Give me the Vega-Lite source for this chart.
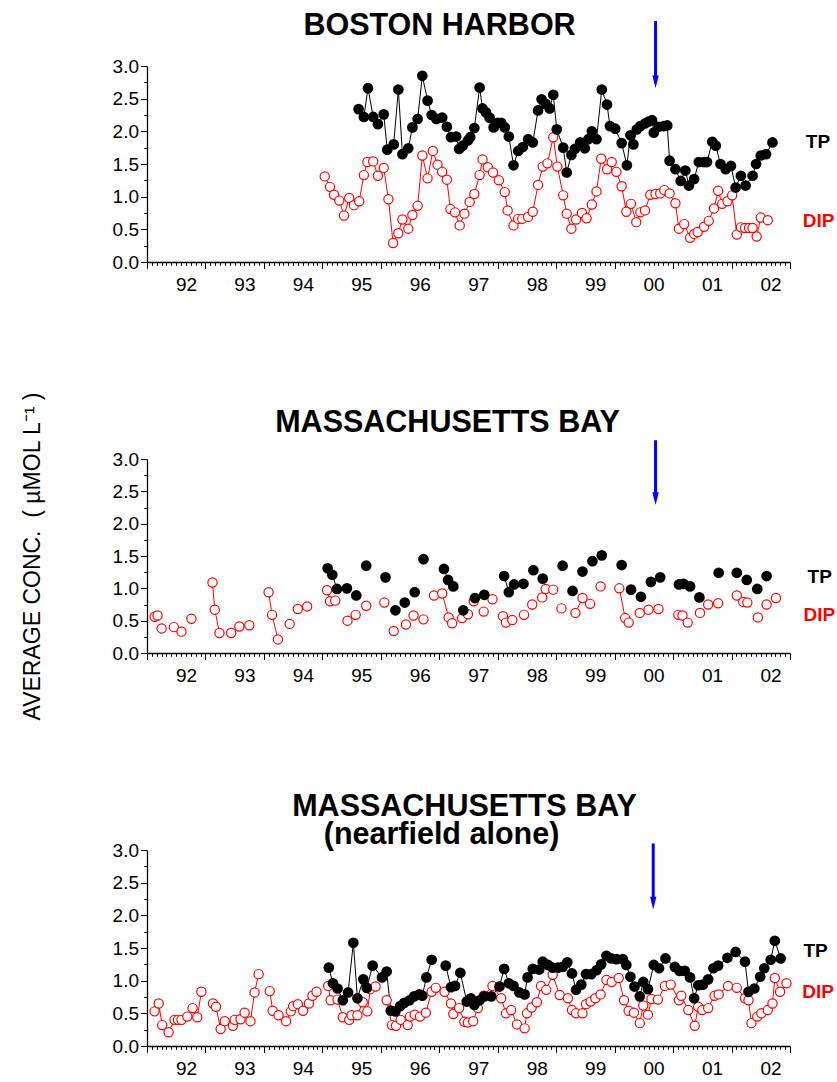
{
  "$schema": "https://vega.github.io/schema/vega-lite/v6.json",
  "padding": {"left": 21, "top": 10, "right": 5, "bottom": 5},
  "bounds": "flush",
  "spacing": 197,
  "config": {
    "view": {"stroke": null},
    "title": {"font": "Liberation Sans", "fontSize": 30.5, "fontWeight": "bold", "color": "#000000", "anchor": "middle", "baseline": "alphabetic", "frame": "group"}
  },
  "datasets": {
    "harbor": [
      {"t":1995.62,"v":2.34,"s":"TP","g":1},{"t":1995.71,"v":2.22,"s":"TP","g":1},{"t":1995.78,"v":2.66,"s":"TP","g":1},{"t":1995.87,"v":2.22,"s":"TP","g":1},
      {"t":1995.95,"v":2.11,"s":"TP","g":1},{"t":1996.05,"v":2.26,"s":"TP","g":1},{"t":1996.11,"v":1.72,"s":"TP","g":1},{"t":1996.22,"v":1.80,"s":"TP","g":1},
      {"t":1996.30,"v":2.64,"s":"TP","g":1},{"t":1996.37,"v":1.65,"s":"TP","g":1},{"t":1996.47,"v":1.74,"s":"TP","g":1},{"t":1996.54,"v":2.06,"s":"TP","g":1},
      {"t":1996.63,"v":2.19,"s":"TP","g":1},{"t":1996.71,"v":2.85,"s":"TP","g":1},{"t":1996.80,"v":2.47,"s":"TP","g":1},{"t":1996.87,"v":2.25,"s":"TP","g":1},
      {"t":1996.95,"v":2.19,"s":"TP","g":1},{"t":1997.05,"v":2.21,"s":"TP","g":1},{"t":1997.13,"v":2.07,"s":"TP","g":1},{"t":1997.20,"v":1.91,"s":"TP","g":1},
      {"t":1997.29,"v":1.92,"s":"TP","g":1},{"t":1997.34,"v":1.73,"s":"TP","g":1},{"t":1997.40,"v":1.78,"s":"TP","g":1},{"t":1997.49,"v":1.86,"s":"TP","g":1},
      {"t":1997.53,"v":1.91,"s":"TP","g":1},{"t":1997.60,"v":2.05,"s":"TP","g":1},{"t":1997.69,"v":2.67,"s":"TP","g":1},{"t":1997.74,"v":2.35,"s":"TP","g":1},
      {"t":1997.80,"v":2.29,"s":"TP","g":1},{"t":1997.86,"v":2.21,"s":"TP","g":1},{"t":1997.93,"v":2.06,"s":"TP","g":1},{"t":1998.00,"v":2.13,"s":"TP","g":1},
      {"t":1998.06,"v":2.13,"s":"TP","g":1},{"t":1998.12,"v":2.06,"s":"TP","g":1},{"t":1998.19,"v":1.92,"s":"TP","g":1},{"t":1998.27,"v":1.48,"s":"TP","g":1},
      {"t":1998.35,"v":1.70,"s":"TP","g":1},{"t":1998.43,"v":1.76,"s":"TP","g":1},{"t":1998.52,"v":1.88,"s":"TP","g":1},{"t":1998.60,"v":1.83,"s":"TP","g":1},
      {"t":1998.69,"v":2.32,"s":"TP","g":1},{"t":1998.75,"v":2.49,"s":"TP","g":1},{"t":1998.82,"v":2.42,"s":"TP","g":1},{"t":1998.89,"v":2.35,"s":"TP","g":1},
      {"t":1998.95,"v":2.56,"s":"TP","g":1},{"t":1999.01,"v":2.03,"s":"TP","g":1},{"t":1999.12,"v":1.75,"s":"TP","g":1},{"t":1999.18,"v":1.37,"s":"TP","g":1},
      {"t":1999.26,"v":1.64,"s":"TP","g":1},{"t":1999.32,"v":1.73,"s":"TP","g":1},{"t":1999.41,"v":1.83,"s":"TP","g":1},{"t":1999.49,"v":1.74,"s":"TP","g":1},
      {"t":1999.55,"v":1.88,"s":"TP","g":1},{"t":1999.61,"v":2.00,"s":"TP","g":1},{"t":1999.69,"v":1.88,"s":"TP","g":1},{"t":1999.78,"v":2.64,"s":"TP","g":1},
      {"t":1999.87,"v":2.41,"s":"TP","g":1},{"t":1999.92,"v":2.08,"s":"TP","g":1},{"t":2000.01,"v":2.04,"s":"TP","g":1},{"t":2000.12,"v":1.82,"s":"TP","g":1},
      {"t":2000.21,"v":1.48,"s":"TP","g":1},{"t":2000.27,"v":1.94,"s":"TP","g":1},{"t":2000.32,"v":1.80,"s":"TP","g":1},{"t":2000.38,"v":2.03,"s":"TP","g":1},
      {"t":2000.44,"v":2.08,"s":"TP","g":1},{"t":2000.52,"v":2.12,"s":"TP","g":1},{"t":2000.58,"v":2.15,"s":"TP","g":1},{"t":2000.64,"v":2.17,"s":"TP","g":1},
      {"t":2000.67,"v":1.98,"s":"TP","g":1},{"t":2000.75,"v":2.07,"s":"TP","g":1},{"t":2000.84,"v":2.08,"s":"TP","g":1},{"t":2000.90,"v":2.09,"s":"TP","g":1},
      {"t":2000.94,"v":1.55,"s":"TP","g":1},{"t":2001.04,"v":1.42,"s":"TP","g":1},{"t":2001.13,"v":1.24,"s":"TP","g":1},{"t":2001.21,"v":1.40,"s":"TP","g":1},
      {"t":2001.27,"v":1.17,"s":"TP","g":1},{"t":2001.36,"v":1.27,"s":"TP","g":1},{"t":2001.44,"v":1.53,"s":"TP","g":1},{"t":2001.53,"v":1.53,"s":"TP","g":1},
      {"t":2001.58,"v":1.53,"s":"TP","g":1},{"t":2001.67,"v":1.84,"s":"TP","g":1},{"t":2001.73,"v":1.78,"s":"TP","g":1},{"t":2001.81,"v":1.50,"s":"TP","g":1},
      {"t":2001.90,"v":1.42,"s":"TP","g":1},{"t":2001.99,"v":1.47,"s":"TP","g":1},{"t":2002.07,"v":1.14,"s":"TP","g":1},{"t":2002.16,"v":1.32,"s":"TP","g":1},
      {"t":2002.24,"v":1.17,"s":"TP","g":1},{"t":2002.36,"v":1.32,"s":"TP","g":1},{"t":2002.42,"v":1.50,"s":"TP","g":1},{"t":2002.50,"v":1.63,"s":"TP","g":1},
      {"t":2002.59,"v":1.65,"s":"TP","g":1},{"t":2002.70,"v":1.83,"s":"TP","g":1},

      {"t":1995.04,"v":1.31,"s":"DIP","g":2},{"t":1995.13,"v":1.15,"s":"DIP","g":2},{"t":1995.20,"v":1.03,"s":"DIP","g":2},{"t":1995.29,"v":0.94,"s":"DIP","g":2},
      {"t":1995.37,"v":0.71,"s":"DIP","g":2},{"t":1995.46,"v":0.98,"s":"DIP","g":2},{"t":1995.54,"v":0.87,"s":"DIP","g":2},{"t":1995.63,"v":0.93,"s":"DIP","g":2},
      {"t":1995.71,"v":1.33,"s":"DIP","g":2},{"t":1995.77,"v":1.53,"s":"DIP","g":2},{"t":1995.87,"v":1.54,"s":"DIP","g":2},{"t":1995.95,"v":1.32,"s":"DIP","g":2},
      {"t":1996.05,"v":1.44,"s":"DIP","g":2},{"t":1996.13,"v":0.96,"s":"DIP","g":2},{"t":1996.21,"v":0.29,"s":"DIP","g":2},{"t":1996.30,"v":0.44,"s":"DIP","g":2},
      {"t":1996.37,"v":0.65,"s":"DIP","g":2},{"t":1996.47,"v":0.51,"s":"DIP","g":2},{"t":1996.54,"v":0.72,"s":"DIP","g":2},{"t":1996.63,"v":0.86,"s":"DIP","g":2},
      {"t":1996.71,"v":1.63,"s":"DIP","g":2},{"t":1996.80,"v":1.28,"s":"DIP","g":2},{"t":1996.89,"v":1.70,"s":"DIP","g":2},{"t":1996.97,"v":1.49,"s":"DIP","g":2},
      {"t":1997.05,"v":1.38,"s":"DIP","g":2},{"t":1997.13,"v":1.26,"s":"DIP","g":2},{"t":1997.19,"v":0.81,"s":"DIP","g":2},{"t":1997.27,"v":0.76,"s":"DIP","g":2},
      {"t":1997.35,"v":0.56,"s":"DIP","g":2},{"t":1997.43,"v":0.74,"s":"DIP","g":2},{"t":1997.52,"v":0.92,"s":"DIP","g":2},{"t":1997.60,"v":1.04,"s":"DIP","g":2},
      {"t":1997.69,"v":1.33,"s":"DIP","g":2},{"t":1997.74,"v":1.57,"s":"DIP","g":2},{"t":1997.83,"v":1.45,"s":"DIP","g":2},{"t":1997.92,"v":1.37,"s":"DIP","g":2},
      {"t":1998.02,"v":1.25,"s":"DIP","g":2},{"t":1998.12,"v":1.07,"s":"DIP","g":2},{"t":1998.17,"v":0.79,"s":"DIP","g":2},{"t":1998.27,"v":0.56,"s":"DIP","g":2},
      {"t":1998.35,"v":0.66,"s":"DIP","g":2},{"t":1998.42,"v":0.66,"s":"DIP","g":2},{"t":1998.52,"v":0.69,"s":"DIP","g":2},{"t":1998.60,"v":0.77,"s":"DIP","g":2},
      {"t":1998.69,"v":1.18,"s":"DIP","g":2},{"t":1998.77,"v":1.46,"s":"DIP","g":2},{"t":1998.85,"v":1.51,"s":"DIP","g":2},{"t":1998.95,"v":1.91,"s":"DIP","g":2},
      {"t":1999.02,"v":1.46,"s":"DIP","g":2},{"t":1999.12,"v":1.02,"s":"DIP","g":2},{"t":1999.18,"v":0.74,"s":"DIP","g":2},{"t":1999.26,"v":0.51,"s":"DIP","g":2},
      {"t":1999.34,"v":0.65,"s":"DIP","g":2},{"t":1999.44,"v":0.75,"s":"DIP","g":2},{"t":1999.52,"v":0.67,"s":"DIP","g":2},{"t":1999.61,"v":0.88,"s":"DIP","g":2},
      {"t":1999.69,"v":1.08,"s":"DIP","g":2},{"t":1999.77,"v":1.58,"s":"DIP","g":2},{"t":1999.87,"v":1.42,"s":"DIP","g":2},{"t":1999.95,"v":1.53,"s":"DIP","g":2},
      {"t":2000.03,"v":1.38,"s":"DIP","g":2},{"t":2000.12,"v":1.16,"s":"DIP","g":2},{"t":2000.20,"v":0.77,"s":"DIP","g":2},{"t":2000.28,"v":0.89,"s":"DIP","g":2},
      {"t":2000.37,"v":0.61,"s":"DIP","g":2},{"t":2000.44,"v":0.76,"s":"DIP","g":2},{"t":2000.52,"v":0.79,"s":"DIP","g":2},{"t":2000.61,"v":1.03,"s":"DIP","g":2},
      {"t":2000.70,"v":1.04,"s":"DIP","g":2},{"t":2000.78,"v":1.05,"s":"DIP","g":2},{"t":2000.85,"v":1.10,"s":"DIP","g":2},{"t":2000.94,"v":1.05,"s":"DIP","g":2},
      {"t":2001.04,"v":0.90,"s":"DIP","g":2},{"t":2001.10,"v":0.51,"s":"DIP","g":2},{"t":2001.19,"v":0.58,"s":"DIP","g":2},{"t":2001.29,"v":0.37,"s":"DIP","g":2},
      {"t":2001.36,"v":0.43,"s":"DIP","g":2},{"t":2001.42,"v":0.46,"s":"DIP","g":2},{"t":2001.53,"v":0.54,"s":"DIP","g":2},{"t":2001.61,"v":0.63,"s":"DIP","g":2},
      {"t":2001.70,"v":0.82,"s":"DIP","g":2},{"t":2001.77,"v":1.09,"s":"DIP","g":2},{"t":2001.84,"v":0.89,"s":"DIP","g":2},{"t":2001.93,"v":0.93,"s":"DIP","g":2},
      {"t":2002.01,"v":1.02,"s":"DIP","g":2},{"t":2002.09,"v":0.42,"s":"DIP","g":2},{"t":2002.16,"v":0.53,"s":"DIP","g":2},{"t":2002.23,"v":0.52,"s":"DIP","g":2},
      {"t":2002.30,"v":0.52,"s":"DIP","g":2},{"t":2002.36,"v":0.52,"s":"DIP","g":2},{"t":2002.43,"v":0.39,"s":"DIP","g":2},{"t":2002.50,"v":0.68,"s":"DIP","g":2},
      {"t":2002.62,"v":0.64,"s":"DIP","g":2}
    ],
    "bay": [
      {"t":1992.13,"v":0.56,"s":"DIP","g":1},{"t":1992.18,"v":0.58,"s":"DIP","g":1},{"t":1992.25,"v":0.38,"s":"DIP","g":2},{"t":1992.46,"v":0.40,"s":"DIP","g":3},
      {"t":1992.59,"v":0.33,"s":"DIP","g":4},{"t":1992.76,"v":0.53,"s":"DIP","g":5},{"t":1993.12,"v":1.09,"s":"DIP","g":6},{"t":1993.16,"v":0.67,"s":"DIP","g":6},
      {"t":1993.24,"v":0.31,"s":"DIP","g":6},{"t":1993.44,"v":0.31,"s":"DIP","g":7},{"t":1993.58,"v":0.41,"s":"DIP","g":8},{"t":1993.75,"v":0.43,"s":"DIP","g":9},
      {"t":1994.08,"v":0.94,"s":"DIP","g":10},{"t":1994.14,"v":0.59,"s":"DIP","g":10},{"t":1994.24,"v":0.21,"s":"DIP","g":10},{"t":1994.44,"v":0.45,"s":"DIP","g":11},
      {"t":1994.58,"v":0.68,"s":"DIP","g":12},{"t":1994.74,"v":0.72,"s":"DIP","g":13},{"t":1995.08,"v":0.97,"s":"DIP","g":14},{"t":1995.13,"v":0.80,"s":"DIP","g":14},
      {"t":1995.22,"v":0.81,"s":"DIP","g":15},{"t":1995.43,"v":0.50,"s":"DIP","g":16},{"t":1995.57,"v":0.59,"s":"DIP","g":17},{"t":1995.75,"v":0.73,"s":"DIP","g":18},
      {"t":1996.06,"v":0.78,"s":"DIP","g":19},{"t":1996.22,"v":0.34,"s":"DIP","g":20},{"t":1996.43,"v":0.44,"s":"DIP","g":21},{"t":1996.56,"v":0.58,"s":"DIP","g":22},
      {"t":1996.73,"v":0.52,"s":"DIP","g":23},{"t":1996.91,"v":0.89,"s":"DIP","g":24},{"t":1997.05,"v":0.92,"s":"DIP","g":25},{"t":1997.16,"v":0.55,"s":"DIP","g":25},
      {"t":1997.22,"v":0.46,"s":"DIP","g":26},{"t":1997.39,"v":0.54,"s":"DIP","g":27},{"t":1997.49,"v":0.60,"s":"DIP","g":28},{"t":1997.59,"v":0.80,"s":"DIP","g":29},
      {"t":1997.76,"v":0.64,"s":"DIP","g":30},{"t":1997.91,"v":0.83,"s":"DIP","g":31},{"t":1998.09,"v":0.57,"s":"DIP","g":32},{"t":1998.14,"v":0.47,"s":"DIP","g":33},
      {"t":1998.25,"v":0.51,"s":"DIP","g":34},{"t":1998.45,"v":0.59,"s":"DIP","g":35},{"t":1998.59,"v":0.75,"s":"DIP","g":36},{"t":1998.76,"v":0.86,"s":"DIP","g":37},
      {"t":1998.82,"v":0.99,"s":"DIP","g":38},{"t":1998.95,"v":0.98,"s":"DIP","g":39},{"t":1999.09,"v":0.69,"s":"DIP","g":40},{"t":1999.33,"v":0.62,"s":"DIP","g":41},
      {"t":1999.45,"v":0.85,"s":"DIP","g":41},{"t":1999.58,"v":0.76,"s":"DIP","g":42},{"t":1999.76,"v":1.03,"s":"DIP","g":43},{"t":2000.08,"v":1.00,"s":"DIP","g":44},
      {"t":2000.18,"v":0.54,"s":"DIP","g":44},{"t":2000.24,"v":0.47,"s":"DIP","g":45},{"t":2000.43,"v":0.62,"s":"DIP","g":46},{"t":2000.58,"v":0.67,"s":"DIP","g":47},
      {"t":2000.75,"v":0.68,"s":"DIP","g":48},{"t":2001.09,"v":0.59,"s":"DIP","g":49},{"t":2001.16,"v":0.58,"s":"DIP","g":50},{"t":2001.25,"v":0.47,"s":"DIP","g":51},
      {"t":2001.46,"v":0.62,"s":"DIP","g":52},{"t":2001.60,"v":0.75,"s":"DIP","g":53},{"t":2001.77,"v":0.77,"s":"DIP","g":54},{"t":2002.09,"v":0.89,"s":"DIP","g":55},
      {"t":2002.20,"v":0.79,"s":"DIP","g":56},{"t":2002.27,"v":0.78,"s":"DIP","g":57},{"t":2002.45,"v":0.55,"s":"DIP","g":58},{"t":2002.60,"v":0.75,"s":"DIP","g":59},
      {"t":2002.76,"v":0.85,"s":"DIP","g":60},

      {"t":1995.09,"v":1.31,"s":"TP","g":101},{"t":1995.17,"v":1.21,"s":"TP","g":101},{"t":1995.25,"v":0.99,"s":"TP","g":101},{"t":1995.42,"v":1.00,"s":"TP","g":102},
      {"t":1995.58,"v":0.89,"s":"TP","g":103},{"t":1995.75,"v":1.35,"s":"TP","g":104},{"t":1996.08,"v":1.17,"s":"TP","g":105},{"t":1996.25,"v":0.66,"s":"TP","g":106},
      {"t":1996.41,"v":0.78,"s":"TP","g":107},{"t":1996.58,"v":0.94,"s":"TP","g":108},{"t":1996.73,"v":1.45,"s":"TP","g":109},{"t":1997.08,"v":1.30,"s":"TP","g":110},
      {"t":1997.15,"v":1.13,"s":"TP","g":110},{"t":1997.24,"v":1.03,"s":"TP","g":110},{"t":1997.41,"v":0.66,"s":"TP","g":111},{"t":1997.61,"v":0.85,"s":"TP","g":112},
      {"t":1997.77,"v":0.90,"s":"TP","g":113},{"t":1998.11,"v":1.19,"s":"TP","g":114},{"t":1998.19,"v":0.94,"s":"TP","g":114},{"t":1998.28,"v":1.06,"s":"TP","g":115},
      {"t":1998.44,"v":1.07,"s":"TP","g":116},{"t":1998.61,"v":1.28,"s":"TP","g":117},{"t":1998.77,"v":1.15,"s":"TP","g":118},{"t":1999.11,"v":1.35,"s":"TP","g":119},
      {"t":1999.28,"v":0.96,"s":"TP","g":120},{"t":1999.45,"v":1.26,"s":"TP","g":121},{"t":1999.62,"v":1.42,"s":"TP","g":122},{"t":1999.78,"v":1.51,"s":"TP","g":123},
      {"t":2000.12,"v":1.36,"s":"TP","g":124},{"t":2000.28,"v":0.98,"s":"TP","g":125},{"t":2000.45,"v":0.87,"s":"TP","g":126},{"t":2000.62,"v":1.10,"s":"TP","g":127},
      {"t":2000.78,"v":1.17,"s":"TP","g":128},{"t":2001.10,"v":1.06,"s":"TP","g":129},{"t":2001.18,"v":1.07,"s":"TP","g":129},{"t":2001.29,"v":1.03,"s":"TP","g":129},
      {"t":2001.45,"v":0.86,"s":"TP","g":130},{"t":2001.78,"v":1.24,"s":"TP","g":131},{"t":2002.09,"v":1.24,"s":"TP","g":132},{"t":2002.26,"v":1.13,"s":"TP","g":133},
      {"t":2002.44,"v":0.99,"s":"TP","g":134},{"t":2002.60,"v":1.19,"s":"TP","g":135}
    ],
    "near": [
      {"t":1992.13,"v":0.53,"s":"DIP","g":10},{"t":1992.20,"v":0.65,"s":"DIP","g":10},{"t":1992.26,"v":0.32,"s":"DIP","g":10},{"t":1992.37,"v":0.21,"s":"DIP","g":10},
      {"t":1992.47,"v":0.40,"s":"DIP","g":10},{"t":1992.53,"v":0.40,"s":"DIP","g":10},{"t":1992.59,"v":0.40,"s":"DIP","g":10},{"t":1992.69,"v":0.45,"s":"DIP","g":10},
      {"t":1992.78,"v":0.58,"s":"DIP","g":10},{"t":1992.86,"v":0.44,"s":"DIP","g":10},{"t":1992.93,"v":0.83,"s":"DIP","g":10},
      {"t":1993.13,"v":0.65,"s":"DIP","g":11},{"t":1993.18,"v":0.60,"s":"DIP","g":11},{"t":1993.26,"v":0.26,"s":"DIP","g":11},{"t":1993.33,"v":0.38,"s":"DIP","g":11},
      {"t":1993.47,"v":0.31,"s":"DIP","g":11},{"t":1993.50,"v":0.40,"s":"DIP","g":11},{"t":1993.60,"v":0.41,"s":"DIP","g":11},{"t":1993.67,"v":0.51,"s":"DIP","g":11},
      {"t":1993.77,"v":0.38,"s":"DIP","g":11},{"t":1993.84,"v":0.82,"s":"DIP","g":11},{"t":1993.91,"v":1.10,"s":"DIP","g":11},
      {"t":1994.10,"v":0.84,"s":"DIP","g":12},{"t":1994.15,"v":0.54,"s":"DIP","g":12},{"t":1994.25,"v":0.47,"s":"DIP","g":12},{"t":1994.38,"v":0.38,"s":"DIP","g":12},
      {"t":1994.46,"v":0.53,"s":"DIP","g":12},{"t":1994.50,"v":0.61,"s":"DIP","g":12},{"t":1994.58,"v":0.64,"s":"DIP","g":12},{"t":1994.67,"v":0.54,"s":"DIP","g":12},
      {"t":1994.77,"v":0.65,"s":"DIP","g":12},{"t":1994.83,"v":0.77,"s":"DIP","g":12},{"t":1994.90,"v":0.83,"s":"DIP","g":12},
      {"t":1995.10,"v":0.92,"s":"DIP","g":13},{"t":1995.14,"v":0.70,"s":"DIP","g":13},{"t":1995.26,"v":0.71,"s":"DIP","g":13},{"t":1995.35,"v":0.44,"s":"DIP","g":13},
      {"t":1995.46,"v":0.40,"s":"DIP","g":13},{"t":1995.50,"v":0.47,"s":"DIP","g":13},{"t":1995.60,"v":0.47,"s":"DIP","g":13},{"t":1995.69,"v":0.67,"s":"DIP","g":13},
      {"t":1995.77,"v":0.53,"s":"DIP","g":13},{"t":1995.82,"v":0.87,"s":"DIP","g":13},{"t":1995.91,"v":0.91,"s":"DIP","g":13},
      {"t":1996.10,"v":0.70,"s":"DIP","g":14},{"t":1996.19,"v":0.32,"s":"DIP","g":14},{"t":1996.26,"v":0.31,"s":"DIP","g":14},{"t":1996.34,"v":0.40,"s":"DIP","g":14},
      {"t":1996.46,"v":0.32,"s":"DIP","g":14},{"t":1996.50,"v":0.45,"s":"DIP","g":14},{"t":1996.58,"v":0.48,"s":"DIP","g":14},{"t":1996.67,"v":0.45,"s":"DIP","g":14},
      {"t":1996.77,"v":0.51,"s":"DIP","g":14},{"t":1996.87,"v":0.83,"s":"DIP","g":14},{"t":1996.94,"v":0.89,"s":"DIP","g":14},{"t":1997.09,"v":0.83,"s":"DIP","g":14},
      {"t":1997.20,"v":0.65,"s":"DIP","g":14},{"t":1997.24,"v":0.49,"s":"DIP","g":14},{"t":1997.34,"v":0.58,"s":"DIP","g":14},{"t":1997.43,"v":0.37,"s":"DIP","g":14},
      {"t":1997.49,"v":0.36,"s":"DIP","g":14},{"t":1997.58,"v":0.38,"s":"DIP","g":14},{"t":1997.66,"v":0.58,"s":"DIP","g":14},{"t":1997.76,"v":0.77,"s":"DIP","g":14},
      {"t":1997.91,"v":0.92,"s":"DIP","g":14},{"t":1998.06,"v":0.73,"s":"DIP","g":14},{"t":1998.14,"v":0.50,"s":"DIP","g":14},{"t":1998.23,"v":0.55,"s":"DIP","g":14},
      {"t":1998.33,"v":0.33,"s":"DIP","g":14},{"t":1998.46,"v":0.27,"s":"DIP","g":14},{"t":1998.50,"v":0.50,"s":"DIP","g":14},{"t":1998.58,"v":0.59,"s":"DIP","g":14},
      {"t":1998.67,"v":0.67,"s":"DIP","g":14},{"t":1998.74,"v":0.92,"s":"DIP","g":14},{"t":1998.83,"v":0.86,"s":"DIP","g":14},{"t":1998.94,"v":1.09,"s":"DIP","g":14},
      {"t":1999.06,"v":0.78,"s":"DIP","g":14},{"t":1999.20,"v":0.73,"s":"DIP","g":14},{"t":1999.27,"v":0.55,"s":"DIP","g":14},{"t":1999.34,"v":0.50,"s":"DIP","g":14},
      {"t":1999.45,"v":0.50,"s":"DIP","g":14},{"t":1999.51,"v":0.64,"s":"DIP","g":14},{"t":1999.59,"v":0.68,"s":"DIP","g":14},{"t":1999.67,"v":0.73,"s":"DIP","g":14},
      {"t":1999.76,"v":0.79,"s":"DIP","g":14},{"t":1999.86,"v":1.01,"s":"DIP","g":14},{"t":1999.95,"v":0.98,"s":"DIP","g":14},{"t":2000.07,"v":1.04,"s":"DIP","g":14},
      {"t":2000.16,"v":0.70,"s":"DIP","g":14},{"t":2000.24,"v":0.54,"s":"DIP","g":14},{"t":2000.33,"v":0.51,"s":"DIP","g":14},{"t":2000.43,"v":0.35,"s":"DIP","g":14},
      {"t":2000.49,"v":0.62,"s":"DIP","g":14},{"t":2000.57,"v":0.48,"s":"DIP","g":14},{"t":2000.63,"v":0.72,"s":"DIP","g":14},{"t":2000.74,"v":0.71,"s":"DIP","g":14},
      {"t":2000.86,"v":0.92,"s":"DIP","g":14},{"t":2000.96,"v":0.94,"s":"DIP","g":14},{"t":2001.10,"v":0.70,"s":"DIP","g":14},{"t":2001.14,"v":0.77,"s":"DIP","g":14},
      {"t":2001.26,"v":0.55,"s":"DIP","g":14},{"t":2001.37,"v":0.31,"s":"DIP","g":14},{"t":2001.43,"v":0.60,"s":"DIP","g":14},{"t":2001.50,"v":0.55,"s":"DIP","g":14},
      {"t":2001.60,"v":0.58,"s":"DIP","g":14},{"t":2001.71,"v":0.77,"s":"DIP","g":14},{"t":2001.78,"v":0.79,"s":"DIP","g":14},{"t":2001.94,"v":0.92,"s":"DIP","g":14},
      {"t":2002.09,"v":0.89,"s":"DIP","g":14},{"t":2002.23,"v":0.73,"s":"DIP","g":14},{"t":2002.29,"v":0.70,"s":"DIP","g":14},{"t":2002.34,"v":0.35,"s":"DIP","g":14},
      {"t":2002.44,"v":0.45,"s":"DIP","g":14},{"t":2002.51,"v":0.50,"s":"DIP","g":14},{"t":2002.62,"v":0.55,"s":"DIP","g":14},{"t":2002.70,"v":0.65,"s":"DIP","g":14},
      {"t":2002.74,"v":1.04,"s":"DIP","g":14},{"t":2002.83,"v":0.83,"s":"DIP","g":14},{"t":2002.94,"v":0.96,"s":"DIP","g":14},

      {"t":1995.11,"v":1.20,"s":"TP","g":20},{"t":1995.18,"v":0.96,"s":"TP","g":20},{"t":1995.26,"v":0.88,"s":"TP","g":20},{"t":1995.35,"v":0.70,"s":"TP","g":20},
      {"t":1995.44,"v":0.82,"s":"TP","g":20},{"t":1995.53,"v":1.58,"s":"TP","g":20},{"t":1995.60,"v":0.73,"s":"TP","g":20},{"t":1995.70,"v":1.02,"s":"TP","g":20},
      {"t":1995.76,"v":0.89,"s":"TP","g":20},{"t":1995.86,"v":1.23,"s":"TP","g":20},{"t":1996.02,"v":1.05,"s":"TP","g":20},{"t":1996.10,"v":1.14,"s":"TP","g":20},
      {"t":1996.17,"v":0.54,"s":"TP","g":20},{"t":1996.25,"v":0.53,"s":"TP","g":20},{"t":1996.33,"v":0.61,"s":"TP","g":20},{"t":1996.40,"v":0.66,"s":"TP","g":20},
      {"t":1996.49,"v":0.70,"s":"TP","g":20},{"t":1996.57,"v":0.76,"s":"TP","g":20},{"t":1996.66,"v":0.79,"s":"TP","g":20},{"t":1996.71,"v":0.77,"s":"TP","g":20},
      {"t":1996.78,"v":1.05,"s":"TP","g":20},{"t":1996.87,"v":1.32,"s":"TP","g":20},
      {"t":1997.11,"v":1.23,"s":"TP","g":21},{"t":1997.20,"v":0.90,"s":"TP","g":21},{"t":1997.27,"v":0.92,"s":"TP","g":21},{"t":1997.36,"v":1.12,"s":"TP","g":21},
      {"t":1997.47,"v":0.68,"s":"TP","g":21},{"t":1997.54,"v":0.73,"s":"TP","g":21},{"t":1997.60,"v":0.63,"s":"TP","g":21},{"t":1997.69,"v":0.70,"s":"TP","g":21},
      {"t":1997.77,"v":0.76,"s":"TP","g":21},{"t":1997.89,"v":0.76,"s":"TP","g":21},{"t":1998.03,"v":0.91,"s":"TP","g":21},{"t":1998.11,"v":1.18,"s":"TP","g":21},
      {"t":1998.19,"v":0.96,"s":"TP","g":21},{"t":1998.27,"v":0.92,"s":"TP","g":21},{"t":1998.37,"v":0.82,"s":"TP","g":21},{"t":1998.46,"v":0.79,"s":"TP","g":21},
      {"t":1998.51,"v":1.05,"s":"TP","g":21},{"t":1998.60,"v":1.18,"s":"TP","g":21},{"t":1998.71,"v":1.17,"s":"TP","g":21},{"t":1998.77,"v":1.29,"s":"TP","g":21},
      {"t":1998.86,"v":1.24,"s":"TP","g":21},{"t":1998.94,"v":1.20,"s":"TP","g":21},{"t":1999.03,"v":1.20,"s":"TP","g":21},{"t":1999.11,"v":1.21,"s":"TP","g":21},
      {"t":1999.19,"v":1.28,"s":"TP","g":21},{"t":1999.27,"v":1.11,"s":"TP","g":21},{"t":1999.34,"v":0.86,"s":"TP","g":21},{"t":1999.43,"v":0.94,"s":"TP","g":21},
      {"t":1999.51,"v":1.10,"s":"TP","g":21},{"t":1999.60,"v":1.10,"s":"TP","g":21},{"t":1999.69,"v":1.16,"s":"TP","g":21},{"t":1999.77,"v":1.25,"s":"TP","g":21},
      {"t":1999.86,"v":1.38,"s":"TP","g":21},{"t":1999.94,"v":1.34,"s":"TP","g":21},{"t":2000.03,"v":1.33,"s":"TP","g":21},{"t":2000.14,"v":1.33,"s":"TP","g":21},
      {"t":2000.20,"v":1.24,"s":"TP","g":21},{"t":2000.27,"v":1.06,"s":"TP","g":21},{"t":2000.34,"v":0.91,"s":"TP","g":21},{"t":2000.43,"v":0.76,"s":"TP","g":21},
      {"t":2000.49,"v":0.98,"s":"TP","g":21},{"t":2000.57,"v":0.87,"s":"TP","g":21},{"t":2000.67,"v":1.24,"s":"TP","g":21},{"t":2000.76,"v":1.19,"s":"TP","g":21},
      {"t":2000.87,"v":1.34,"s":"TP","g":21},{"t":2001.03,"v":1.21,"s":"TP","g":21},{"t":2001.11,"v":1.15,"s":"TP","g":21},{"t":2001.20,"v":1.15,"s":"TP","g":21},
      {"t":2001.29,"v":1.05,"s":"TP","g":21},{"t":2001.36,"v":0.73,"s":"TP","g":21},{"t":2001.43,"v":0.93,"s":"TP","g":21},{"t":2001.51,"v":0.94,"s":"TP","g":21},
      {"t":2001.60,"v":1.02,"s":"TP","g":21},{"t":2001.69,"v":1.19,"s":"TP","g":21},{"t":2001.77,"v":1.23,"s":"TP","g":21},{"t":2001.93,"v":1.35,"s":"TP","g":21},
      {"t":2002.07,"v":1.44,"s":"TP","g":21},{"t":2002.23,"v":1.29,"s":"TP","g":21},{"t":2002.29,"v":0.83,"s":"TP","g":21},{"t":2002.39,"v":0.88,"s":"TP","g":21},
      {"t":2002.49,"v":1.06,"s":"TP","g":21},{"t":2002.56,"v":1.19,"s":"TP","g":21},{"t":2002.67,"v":1.32,"s":"TP","g":21},{"t":2002.74,"v":1.61,"s":"TP","g":21},
      {"t":2002.84,"v":1.34,"s":"TP","g":21}
    ]
  },
  "vconcat": [
    {
      "width": 643,
      "height": 196,
      "title": {"text": "BOSTON HARBOR", "dx": -29, "offset": -21.8},
      "encoding": {
        "x": {"field": "t", "type": "quantitative", "scale": {"domain": [1992, 2003], "nice": false, "zero": false},
          "axis": {"title": null, "grid": false, "values": [1992,1992.0833,1992.1667,1992.25,1992.3333,1992.4167,1992.5,1992.5833,1992.6667,1992.75,1992.8333,1992.9167,1993,1993.0833,1993.1667,1993.25,1993.3333,1993.4167,1993.5,1993.5833,1993.6667,1993.75,1993.8333,1993.9167,1994,1994.0833,1994.1667,1994.25,1994.3333,1994.4167,1994.5,1994.5833,1994.6667,1994.75,1994.8333,1994.9167,1995,1995.0833,1995.1667,1995.25,1995.3333,1995.4167,1995.5,1995.5833,1995.6667,1995.75,1995.8333,1995.9167,1996,1996.0833,1996.1667,1996.25,1996.3333,1996.4167,1996.5,1996.5833,1996.6667,1996.75,1996.8333,1996.9167,1997,1997.0833,1997.1667,1997.25,1997.3333,1997.4167,1997.5,1997.5833,1997.6667,1997.75,1997.8333,1997.9167,1998,1998.0833,1998.1667,1998.25,1998.3333,1998.4167,1998.5,1998.5833,1998.6667,1998.75,1998.8333,1998.9167,1999,1999.0833,1999.1667,1999.25,1999.3333,1999.4167,1999.5,1999.5833,1999.6667,1999.75,1999.8333,1999.9167,2000,2000.0833,2000.1667,2000.25,2000.3333,2000.4167,2000.5,2000.5833,2000.6667,2000.75,2000.8333,2000.9167,2001,2001.0833,2001.1667,2001.25,2001.3333,2001.4167,2001.5,2001.5833,2001.6667,2001.75,2001.8333,2001.9167,2002,2002.0833,2002.1667,2002.25,2002.3333,2002.4167,2002.5,2002.5833,2002.6667,2002.75,2002.8333,2002.9167,2003],
            "domainColor": "#000000", "domainWidth": 1.3, "tickColor": "#000000", "tickWidth": 1,
            "tickSize": {"condition": {"test": "round(datum.value*12) % 12 == 0", "value": 6.5}, "value": 3.3},
            "labelExpr": "round(datum.value*12) % 12 == 8 ? slice('0' + (floor(datum.value) % 100), -2) : ''",
            "labelFont": "Liberation Sans", "labelFontSize": 19, "labelColor": "#000000", "labelPadding": 10,
            "labelOverlap": false, "labelFlush": false, "labelBound": false}},
        "y": {"field": "v", "type": "quantitative", "scale": {"domain": [0, 3], "nice": false},
          "axis": {"title": null, "grid": false, "values": [0,0.25,0.5,0.75,1,1.25,1.5,1.75,2,2.25,2.5,2.75,3],
            "domainColor": "#000000", "domainWidth": 1.3, "tickColor": "#000000", "tickWidth": 1,
            "tickSize": {"condition": {"test": "round(datum.value*4) % 2 == 0", "value": 6.5}, "value": 3.3},
            "labelExpr": "round(datum.value*4) % 2 == 0 ? format(datum.value, '.1f') : ''",
            "labelFont": "Liberation Sans", "labelFontSize": 19, "labelColor": "#000000", "labelPadding": 2,
            "labelOverlap": false, "labelFlush": false, "labelBound": false}}
      },
      "layer": [
        {"data": {"name": "harbor"}, "mark": {"type": "line", "strokeWidth": 1},
          "encoding": {"color": {"field": "s", "type": "nominal", "scale": {"domain": ["TP", "DIP"], "range": ["#000000", "#ff0000"]}, "legend": null}, "detail": {"field": "g"}}},
        {"data": {"name": "harbor"}, "transform": [{"filter": "datum.s === 'DIP'"}],
          "mark": {"type": "point", "shape": "circle", "filled": false, "fill": "#ffffff", "size": 85, "strokeWidth": 1.2, "opacity": 1},
          "encoding": {"color": {"field": "s", "type": "nominal", "scale": {"domain": ["TP", "DIP"], "range": ["#000000", "#ff0000"]}, "legend": null}}},
        {"data": {"name": "harbor"}, "transform": [{"filter": "datum.s === 'TP'"}],
          "mark": {"type": "circle", "size": 115, "opacity": 1},
          "encoding": {"color": {"field": "s", "type": "nominal", "scale": {"domain": ["TP", "DIP"], "range": ["#000000", "#ff0000"]}, "legend": null}}},
        {"data": {"values": [{"t": 2000.7, "v": 3.69, "v2": 2.76}]},
          "mark": {"type": "rule", "color": "#0000ff", "strokeWidth": 3},
          "encoding": {"y2": {"field": "v2"}}},
        {"data": {"values": [{"t": 2000.7, "v": 2.66}]},
          "mark": {"type": "point", "shape": "M-0.5,-2L0.5,-2L0,0Z", "filled": true, "color": "#0000ff", "size": 161, "opacity": 1},
          "encoding": {}},
        {"data": {"values": [{"t": 2003.27, "v": 1.84, "s": "TP"}, {"t": 2003.22, "v": 0.62, "s": "DIP"}]},
          "mark": {"type": "text", "align": "left", "baseline": "middle", "font": "Liberation Sans", "fontSize": 19, "fontWeight": "bold"},
          "encoding": {"text": {"field": "s"}, "color": {"field": "s", "type": "nominal", "scale": {"domain": ["TP", "DIP"], "range": ["#000000", "#ff0000"]}, "legend": null}}}
      ]
    },
    {
      "width": 643,
      "height": 194,
      "title": {"text": "MASSACHUSETTS BAY", "dx": -21, "offset": -47.2},
      "encoding": {
        "x": {"field": "t", "type": "quantitative", "scale": {"domain": [1992, 2003], "nice": false, "zero": false},
          "axis": {"title": null, "grid": false, "values": [1992,1992.0833,1992.1667,1992.25,1992.3333,1992.4167,1992.5,1992.5833,1992.6667,1992.75,1992.8333,1992.9167,1993,1993.0833,1993.1667,1993.25,1993.3333,1993.4167,1993.5,1993.5833,1993.6667,1993.75,1993.8333,1993.9167,1994,1994.0833,1994.1667,1994.25,1994.3333,1994.4167,1994.5,1994.5833,1994.6667,1994.75,1994.8333,1994.9167,1995,1995.0833,1995.1667,1995.25,1995.3333,1995.4167,1995.5,1995.5833,1995.6667,1995.75,1995.8333,1995.9167,1996,1996.0833,1996.1667,1996.25,1996.3333,1996.4167,1996.5,1996.5833,1996.6667,1996.75,1996.8333,1996.9167,1997,1997.0833,1997.1667,1997.25,1997.3333,1997.4167,1997.5,1997.5833,1997.6667,1997.75,1997.8333,1997.9167,1998,1998.0833,1998.1667,1998.25,1998.3333,1998.4167,1998.5,1998.5833,1998.6667,1998.75,1998.8333,1998.9167,1999,1999.0833,1999.1667,1999.25,1999.3333,1999.4167,1999.5,1999.5833,1999.6667,1999.75,1999.8333,1999.9167,2000,2000.0833,2000.1667,2000.25,2000.3333,2000.4167,2000.5,2000.5833,2000.6667,2000.75,2000.8333,2000.9167,2001,2001.0833,2001.1667,2001.25,2001.3333,2001.4167,2001.5,2001.5833,2001.6667,2001.75,2001.8333,2001.9167,2002,2002.0833,2002.1667,2002.25,2002.3333,2002.4167,2002.5,2002.5833,2002.6667,2002.75,2002.8333,2002.9167,2003],
            "domainColor": "#000000", "domainWidth": 1.3, "tickColor": "#000000", "tickWidth": 1,
            "tickSize": {"condition": {"test": "round(datum.value*12) % 12 == 0", "value": 6.5}, "value": 3.3},
            "labelExpr": "round(datum.value*12) % 12 == 8 ? slice('0' + (floor(datum.value) % 100), -2) : ''",
            "labelFont": "Liberation Sans", "labelFontSize": 19, "labelColor": "#000000", "labelPadding": 10,
            "labelOverlap": false, "labelFlush": false, "labelBound": false}},
        "y": {"field": "v", "type": "quantitative", "scale": {"domain": [0, 3], "nice": false},
          "axis": {"title": "AVERAGE CONC.\u00a0 ( µMOL L⁻¹ )", "titleFont": "Liberation Sans", "titleFontSize": 23, "titleFontWeight": "normal", "titleColor": "#000000", "titlePadding": 68,
            "grid": false, "values": [0,0.25,0.5,0.75,1,1.25,1.5,1.75,2,2.25,2.5,2.75,3],
            "domainColor": "#000000", "domainWidth": 1.3, "tickColor": "#000000", "tickWidth": 1,
            "tickSize": {"condition": {"test": "round(datum.value*4) % 2 == 0", "value": 6.5}, "value": 3.3},
            "labelExpr": "round(datum.value*4) % 2 == 0 ? format(datum.value, '.1f') : ''",
            "labelFont": "Liberation Sans", "labelFontSize": 19, "labelColor": "#000000", "labelPadding": 2,
            "labelOverlap": false, "labelFlush": false, "labelBound": false}}
      },
      "layer": [
        {"data": {"name": "bay"}, "mark": {"type": "line", "strokeWidth": 1},
          "encoding": {"color": {"field": "s", "type": "nominal", "scale": {"domain": ["TP", "DIP"], "range": ["#000000", "#ff0000"]}, "legend": null}, "detail": {"field": "g"}}},
        {"data": {"name": "bay"}, "transform": [{"filter": "datum.s === 'DIP'"}],
          "mark": {"type": "point", "shape": "circle", "filled": false, "fill": "#ffffff", "size": 85, "strokeWidth": 1.2, "opacity": 1},
          "encoding": {"color": {"field": "s", "type": "nominal", "scale": {"domain": ["TP", "DIP"], "range": ["#000000", "#ff0000"]}, "legend": null}}},
        {"data": {"name": "bay"}, "transform": [{"filter": "datum.s === 'TP'"}],
          "mark": {"type": "circle", "size": 115, "opacity": 1},
          "encoding": {"color": {"field": "s", "type": "nominal", "scale": {"domain": ["TP", "DIP"], "range": ["#000000", "#ff0000"]}, "legend": null}}},
        {"data": {"values": [{"t": 2000.7, "v": 3.29, "v2": 2.39}]},
          "mark": {"type": "rule", "color": "#0000ff", "strokeWidth": 3},
          "encoding": {"y2": {"field": "v2"}}},
        {"data": {"values": [{"t": 2000.7, "v": 2.29}]},
          "mark": {"type": "point", "shape": "M-0.5,-2L0.5,-2L0,0Z", "filled": true, "color": "#0000ff", "size": 161, "opacity": 1},
          "encoding": {}},
        {"data": {"values": [{"t": 2003.3, "v": 1.175, "s": "TP"}, {"t": 2003.23, "v": 0.58, "s": "DIP"}]},
          "mark": {"type": "text", "align": "left", "baseline": "middle", "font": "Liberation Sans", "fontSize": 19, "fontWeight": "bold"},
          "encoding": {"text": {"field": "s"}, "color": {"field": "s", "type": "nominal", "scale": {"domain": ["TP", "DIP"], "range": ["#000000", "#ff0000"]}, "legend": null}}}
      ]
    },
    {
      "width": 643,
      "height": 196,
      "title": {"text": ["MASSACHUSETTS BAY", "(nearfield alone)⠀⠀"], "dx": -4, "offset": -10, "lineHeight": 28.3},
      "encoding": {
        "x": {"field": "t", "type": "quantitative", "scale": {"domain": [1992, 2003], "nice": false, "zero": false},
          "axis": {"title": null, "grid": false, "values": [1992,1992.0833,1992.1667,1992.25,1992.3333,1992.4167,1992.5,1992.5833,1992.6667,1992.75,1992.8333,1992.9167,1993,1993.0833,1993.1667,1993.25,1993.3333,1993.4167,1993.5,1993.5833,1993.6667,1993.75,1993.8333,1993.9167,1994,1994.0833,1994.1667,1994.25,1994.3333,1994.4167,1994.5,1994.5833,1994.6667,1994.75,1994.8333,1994.9167,1995,1995.0833,1995.1667,1995.25,1995.3333,1995.4167,1995.5,1995.5833,1995.6667,1995.75,1995.8333,1995.9167,1996,1996.0833,1996.1667,1996.25,1996.3333,1996.4167,1996.5,1996.5833,1996.6667,1996.75,1996.8333,1996.9167,1997,1997.0833,1997.1667,1997.25,1997.3333,1997.4167,1997.5,1997.5833,1997.6667,1997.75,1997.8333,1997.9167,1998,1998.0833,1998.1667,1998.25,1998.3333,1998.4167,1998.5,1998.5833,1998.6667,1998.75,1998.8333,1998.9167,1999,1999.0833,1999.1667,1999.25,1999.3333,1999.4167,1999.5,1999.5833,1999.6667,1999.75,1999.8333,1999.9167,2000,2000.0833,2000.1667,2000.25,2000.3333,2000.4167,2000.5,2000.5833,2000.6667,2000.75,2000.8333,2000.9167,2001,2001.0833,2001.1667,2001.25,2001.3333,2001.4167,2001.5,2001.5833,2001.6667,2001.75,2001.8333,2001.9167,2002,2002.0833,2002.1667,2002.25,2002.3333,2002.4167,2002.5,2002.5833,2002.6667,2002.75,2002.8333,2002.9167,2003],
            "domainColor": "#000000", "domainWidth": 1.3, "tickColor": "#000000", "tickWidth": 1,
            "tickSize": {"condition": {"test": "round(datum.value*12) % 12 == 0", "value": 6.5}, "value": 3.3},
            "labelExpr": "round(datum.value*12) % 12 == 8 ? slice('0' + (floor(datum.value) % 100), -2) : ''",
            "labelFont": "Liberation Sans", "labelFontSize": 19, "labelColor": "#000000", "labelPadding": 10,
            "labelOverlap": false, "labelFlush": false, "labelBound": false}},
        "y": {"field": "v", "type": "quantitative", "scale": {"domain": [0, 3], "nice": false},
          "axis": {"title": null, "grid": false, "values": [0,0.25,0.5,0.75,1,1.25,1.5,1.75,2,2.25,2.5,2.75,3],
            "domainColor": "#000000", "domainWidth": 1.3, "tickColor": "#000000", "tickWidth": 1,
            "tickSize": {"condition": {"test": "round(datum.value*4) % 2 == 0", "value": 6.5}, "value": 3.3},
            "labelExpr": "round(datum.value*4) % 2 == 0 ? format(datum.value, '.1f') : ''",
            "labelFont": "Liberation Sans", "labelFontSize": 19, "labelColor": "#000000", "labelPadding": 2,
            "labelOverlap": false, "labelFlush": false, "labelBound": false}}
      },
      "layer": [
        {"data": {"name": "near"}, "mark": {"type": "line", "strokeWidth": 1},
          "encoding": {"color": {"field": "s", "type": "nominal", "scale": {"domain": ["TP", "DIP"], "range": ["#000000", "#ff0000"]}, "legend": null}, "detail": {"field": "g"}}},
        {"data": {"name": "near"}, "transform": [{"filter": "datum.s === 'DIP'"}],
          "mark": {"type": "point", "shape": "circle", "filled": false, "fill": "#ffffff", "size": 85, "strokeWidth": 1.2, "opacity": 1},
          "encoding": {"color": {"field": "s", "type": "nominal", "scale": {"domain": ["TP", "DIP"], "range": ["#000000", "#ff0000"]}, "legend": null}}},
        {"data": {"name": "near"}, "transform": [{"filter": "datum.s === 'TP'"}],
          "mark": {"type": "circle", "size": 115, "opacity": 1},
          "encoding": {"color": {"field": "s", "type": "nominal", "scale": {"domain": ["TP", "DIP"], "range": ["#000000", "#ff0000"]}, "legend": null}}},
        {"data": {"values": [{"t": 2000.66, "v": 3.10, "v2": 2.19}]},
          "mark": {"type": "rule", "color": "#0000ff", "strokeWidth": 3},
          "encoding": {"y2": {"field": "v2"}}},
        {"data": {"values": [{"t": 2000.66, "v": 2.09}]},
          "mark": {"type": "point", "shape": "M-0.5,-2L0.5,-2L0,0Z", "filled": true, "color": "#0000ff", "size": 161, "opacity": 1},
          "encoding": {}},
        {"data": {"values": [{"t": 2003.23, "v": 1.46, "s": "TP"}, {"t": 2003.21, "v": 0.83, "s": "DIP"}]},
          "mark": {"type": "text", "align": "left", "baseline": "middle", "font": "Liberation Sans", "fontSize": 19, "fontWeight": "bold"},
          "encoding": {"text": {"field": "s"}, "color": {"field": "s", "type": "nominal", "scale": {"domain": ["TP", "DIP"], "range": ["#000000", "#ff0000"]}, "legend": null}}}
      ]
    }
  ]
}
